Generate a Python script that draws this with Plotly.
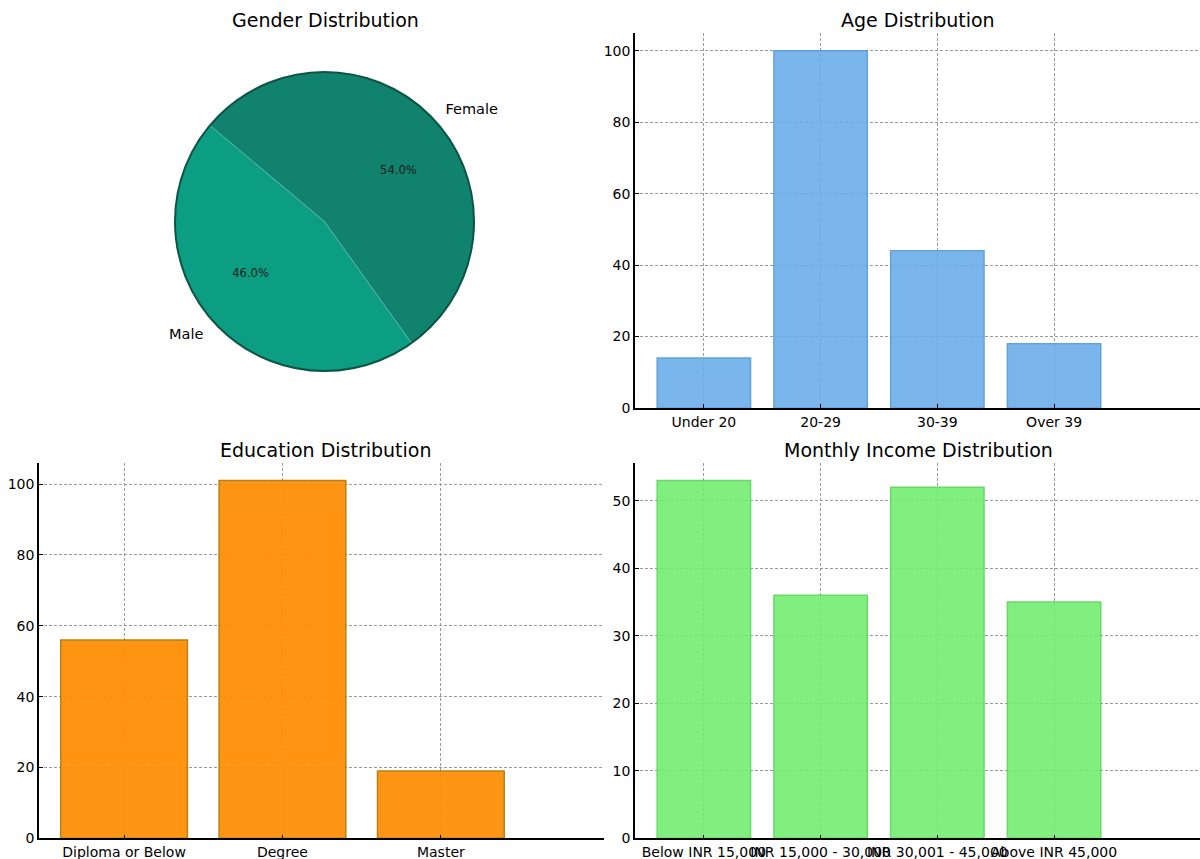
import plotly.graph_objects as go

# ---- data ----
gender_labels = ["Male", "Female"]
gender_values = [46, 54]

age_cats = ["Under 20", "20-29", "30-39", "Over 39"]
age_vals = [14, 100, 44, 18]

edu_cats = ["Diploma or Below", "Degree", "Master"]
edu_vals = [56, 101, 19]

inc_cats = ["Below INR 15,000", "INR 15,000 - 30,000", "INR 30,001 - 45,000", "Above INR 45,000"]
inc_vals = [53, 36, 52, 35]

W, H = 1200, 859
FONT = "DejaVu Sans"

def px(x):
    return x / W

def py(y):
    return 1 - y / H

fig = go.Figure()

CX, CY, R = 324.5, 221.5, 149.5

def dom(r):
    return dict(x=[px(CX - r), px(CX + r)], y=[py(CY + r), py(CY - r)])

# matplotlib-like start angle of 140 deg, counterclockwise -> plotly clockwise rotation
total = sum(gender_values)
rot = 360 - 50 - 360 * gender_values[0] / total
clear = ["rgba(0,0,0,0)", "rgba(0,0,0,0)"]

fig.add_trace(go.Pie(
    labels=gender_labels, values=gender_values, sort=False,
    direction="clockwise", rotation=rot,
    marker=dict(colors=["#0c9e82", "#11826e"], line=dict(color="rgba(255,255,255,0.25)", width=0.6)),
    textinfo="none", domain=dom(R), showlegend=False, hoverinfo="label+percent",
))
# outer rim (single-slice ring for the dark outline)
fig.add_trace(go.Pie(
    labels=["all"], values=[total], sort=False,
    marker=dict(colors=["rgba(0,0,0,0)"], line=dict(color="#0b5444", width=2)),
    textinfo="none", domain=dom(R), showlegend=False, hoverinfo="skip",
))
# outside labels
fig.add_trace(go.Pie(
    labels=gender_labels, values=gender_values, sort=False,
    direction="clockwise", rotation=rot,
    marker=dict(colors=clear, line=dict(width=0)),
    textinfo="label", textposition="outside",
    textfont=dict(family=FONT, size=14.5, color="#000"),
    domain=dom(R + 10), showlegend=False, hoverinfo="skip",
))
# percentage labels (placed at ~0.6 radius)
fig.add_trace(go.Pie(
    labels=gender_labels, values=gender_values, sort=False,
    direction="clockwise", rotation=rot,
    marker=dict(colors=clear, line=dict(width=0)),
    texttemplate="%{percent:.1%}", textposition="outside",
    textfont=dict(family=FONT, size=11.5, color="#1a1a1a"),
    domain=dom(71), showlegend=False, hoverinfo="skip",
))

def bar(cats, vals, color, edge, op, xa, ya):
    fig.add_trace(go.Bar(
        x=list(range(len(cats))), y=vals, width=0.8,
        marker=dict(color=color, opacity=op, line=dict(color=edge, width=1.5)),
        xaxis=xa, yaxis=ya, showlegend=False,
        hovertext=cats, hoverinfo="text+y",
    ))

bar(age_cats, age_vals, "#68abe9", "#4f97d6", 0.88, "x", "y")
bar(edu_cats, edu_vals, "#ff8c00", "#b07800", 0.92, "x2", "y2")
bar(inc_cats, inc_vals, "#6fed6f", "#55d455", 0.88, "x3", "y3")

grid = dict(showgrid=True, gridcolor="#9a9a9a", gridwidth=0.8, griddash="3px,2px")
tickf = dict(family=FONT, size=14, color="black")
common_x = dict(showline=True, linecolor="black", linewidth=1.5, ticks="inside",
                ticklen=4, tickcolor="black", tickfont=tickf, tickangle=0,
                automargin=False, zeroline=False, **grid)
common_y = dict(showline=True, linecolor="black", linewidth=1.5, ticks="inside",
                ticklen=4, tickcolor="black", tickfont=tickf,
                automargin=False, zeroline=False, **grid)

fig.update_layout(
    xaxis=dict(domain=[px(635), 1], range=[-0.59, 4.25], tickvals=list(range(4)),
               ticktext=age_cats, anchor="y", **common_x),
    yaxis=dict(domain=[py(408), py(33)], range=[0, 105], dtick=20, anchor="x", **common_y),
    xaxis2=dict(domain=[px(39), px(604)], range=[-0.537, 3.03], tickvals=list(range(3)),
                ticktext=edu_cats, anchor="y2", **common_x),
    yaxis2=dict(domain=[py(838.3), py(462.7)], range=[0, 106.05], dtick=20, anchor="x2", **common_y),
    xaxis3=dict(domain=[px(635), 1], range=[-0.59, 4.25], tickvals=list(range(4)),
                ticktext=inc_cats, anchor="y3", **common_x),
    yaxis3=dict(domain=[py(838.3), py(462.7)], range=[0, 55.65], dtick=10, anchor="x3", **common_y),
    width=W, height=H, margin=dict(l=0, r=0, t=0, b=0, autoexpand=False),
    paper_bgcolor="white", plot_bgcolor="white",
    font=dict(family=FONT, color="black"),
    bargap=0.2,
)

titles = [("Gender Distribution", 325, 20), ("Age Distribution", 918, 20),
          ("Education Distribution", 325, 450), ("Monthly Income Distribution", 918, 450)]
for t, x, y in titles:
    fig.add_annotation(text=t, x=px(x), y=py(y), xref="paper", yref="paper",
                       showarrow=False, xanchor="center", yanchor="middle",
                       font=dict(family=FONT, size=19, color="black"))

fig.write_html("out.html")
